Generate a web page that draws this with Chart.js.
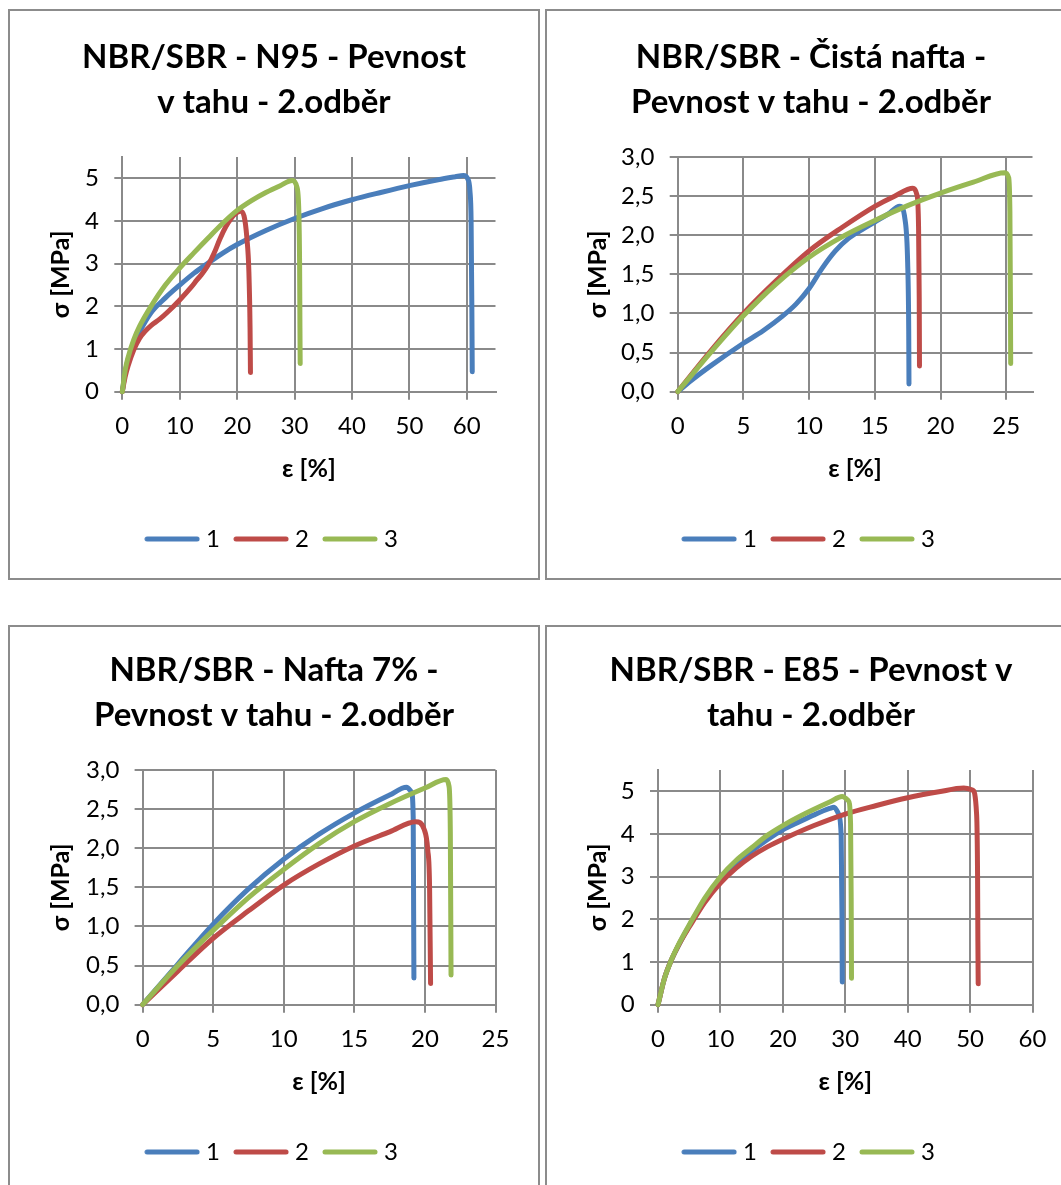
<!DOCTYPE html>
<html>
<head>
<meta charset="utf-8">
<script src="https://cdn.jsdelivr.net/npm/chart.js@4.4.1/dist/chart.umd.min.js"></script>
<style>
  html, body { margin: 0; padding: 0; background: #fff; }
  body { width: 1061px; height: 1185px; position: relative; overflow: hidden; }
  .frame { position: absolute; border: 2px solid #8c8c8c; box-sizing: border-box; }
  canvas { position: absolute; }
</style>
</head>
<body>
<div class="frame" style="left:8px;top:9px;width:532px;height:571px"></div>
<div class="frame" style="left:545px;top:9px;width:532px;height:571px"></div>
<div class="frame" style="left:8px;top:625px;width:532px;height:571px"></div>
<div class="frame" style="left:545px;top:625px;width:532px;height:571px"></div>
<canvas id="c1" width="530" height="569" style="left:9px;top:10px"></canvas>
<canvas id="c2" width="530" height="569" style="left:546px;top:10px"></canvas>
<canvas id="c3" width="530" height="569" style="left:9px;top:623px"></canvas>
<canvas id="c4" width="530" height="569" style="left:546px;top:623px"></canvas>
<script>
// Data: [strain ε %, stress σ MPa]
const seriesNames = ['1', '2', '3'];
const seriesColors = ['#4A7EBB', '#BE4B48', '#98B954'];

// N95
const n95Title = ['NBR/SBR - N95 - Pevnost', 'v tahu - 2.odběr'];
const n95S1 = [[0,0],[0.5,0.45],[1,0.75],[2,1.12],[3,1.4],[5,1.85],[7.5,2.2],[10,2.5],[12.5,2.78],[15,3.02],[17.5,3.25],[20,3.45],[25,3.78],[30,4.06],[35,4.3],[40,4.5],[45,4.67],[50,4.83],[55,4.97],[58,5.04],[59.4,5.07],[60.2,4.98],[60.55,4.7],[60.75,4.0],[60.88,2.0],[60.95,0.47]];
const n95S2 = [[0,0],[0.5,0.35],[1,0.6],[2,0.98],[3,1.25],[4,1.42],[5,1.55],[6.5,1.7],[8,1.88],[10,2.15],[12,2.45],[13,2.62],[14,2.78],[15,2.98],[16,3.25],[17,3.58],[18,3.86],[19,4.07],[20,4.2],[20.6,4.23],[21.2,4.12],[21.7,3.6],[22.05,2.8],[22.25,1.5],[22.32,0.45]];
const n95S3 = [[0,0],[0.5,0.5],[1,0.8],[2,1.22],[3,1.53],[5,2.0],[7.5,2.5],[10,2.9],[12.5,3.26],[15,3.61],[17.5,3.95],[20,4.25],[22.5,4.48],[25,4.67],[27.5,4.83],[29.6,4.95],[30.4,4.8],[30.75,4.2],[30.88,3.0],[30.94,1.5],[30.98,0.66]];
const n95XTicks = ['0', '10', '20', '30', '40', '50', '60'];
const n95YTicks = ['0', '1', '2', '3', '4', '5'];

// Čistá nafta
const cistaTitle = ['NBR/SBR - Čistá nafta -', 'Pevnost v tahu - 2.odběr'];
const cistaS1 = [[0,0],[1,0.14],[2.5,0.33],[5,0.62],[6.5,0.78],[8,0.97],[9,1.12],[10,1.32],[11,1.58],[12,1.8],[13,1.96],[14,2.07],[15,2.17],[16,2.27],[16.9,2.37],[17.3,2.2],[17.5,1.65],[17.58,0.8],[17.6,0.1]];
const cistaS2 = [[0,0],[2.5,0.52],[5,1.0],[7.5,1.42],[10,1.8],[12.5,2.1],[15,2.37],[16.5,2.5],[17.9,2.6],[18.2,2.52],[18.33,2.1],[18.38,1.2],[18.4,0.33]];
const cistaS3 = [[0,0],[1,0.2],[2.5,0.5],[5,0.97],[7.5,1.38],[10,1.72],[12.5,1.98],[15,2.19],[17.5,2.38],[20,2.54],[22.5,2.68],[24.9,2.8],[25.18,2.74],[25.28,2.3],[25.32,1.2],[25.34,0.36]];
const cistaXTicks = ['0', '5', '10', '15', '20', '25'];
const cistaYTicks = ['0,0', '0,5', '1,0', '1,5', '2,0', '2,5', '3,0'];

// Nafta 7%
const nafta7Title = ['NBR/SBR - Nafta 7% -', 'Pevnost v tahu - 2.odběr'];
const nafta7S1 = [[0,0],[2.5,0.52],[5,1.03],[7.5,1.48],[10,1.86],[12.5,2.18],[15,2.45],[17.5,2.68],[18.7,2.78],[19.05,2.72],[19.17,2.4],[19.2,1.2],[19.22,0.34]];
const nafta7S2 = [[0,0],[2.5,0.43],[5,0.85],[7.5,1.2],[10,1.53],[12.5,1.8],[15,2.03],[17.5,2.21],[19.35,2.34],[19.95,2.24],[20.2,1.98],[20.33,1.5],[20.4,0.27]];
const nafta7S3 = [[0,0],[2.5,0.5],[5,0.95],[7.5,1.37],[10,1.73],[12.5,2.06],[15,2.34],[17.5,2.57],[20,2.77],[21.5,2.88],[21.7,2.8],[21.8,2.2],[21.85,0.38]];
const nafta7XTicks = ['0', '5', '10', '15', '20', '25'];
const nafta7YTicks = ['0,0', '0,5', '1,0', '1,5', '2,0', '2,5', '3,0'];

// E85
const e85Title = ['NBR/SBR - E85 - Pevnost v', 'tahu - 2.odběr'];
const e85S1 = [[0,0],[1,0.6],[2,1.0],[3.5,1.45],[5,1.85],[7.5,2.45],[10,2.93],[12.5,3.3],[15,3.6],[17.5,3.87],[20,4.1],[22.5,4.28],[25,4.45],[27.5,4.6],[28.2,4.63],[28.9,4.48],[29.35,3.95],[29.48,2.0],[29.52,0.53]];
const e85S2 = [[0,0],[1,0.6],[2,1.0],[3.5,1.45],[5,1.82],[7.5,2.4],[10,2.85],[12.5,3.2],[15,3.48],[17.5,3.7],[20,3.88],[25,4.2],[30,4.47],[35,4.67],[40,4.85],[45,4.99],[49,5.08],[50.4,5.03],[51.05,4.45],[51.2,3.0],[51.25,1.5],[51.3,0.49]];
const e85S3 = [[0,0],[1,0.6],[2,1.0],[3.5,1.47],[5,1.87],[7.5,2.5],[10,3.0],[12.5,3.38],[15,3.68],[17.5,3.97],[20,4.2],[22.5,4.4],[25,4.58],[27.5,4.75],[29.5,4.88],[30.5,4.78],[30.85,4.25],[30.95,2.5],[31.0,0.62]];
const e85XTicks = ['0', '10', '20', '30', '40', '50', '60'];
const e85YTicks = ['0', '1', '2', '3', '4', '5'];

const FONT = 'Lato, "Open Sans", sans-serif';
const GRID = '#8a8a8a';
const LEGEND_BOX = 44;

// legend swatch: a thick rounded line slightly longer than the legend box
function legendSwatch(color) {
  const c = document.createElement('canvas');
  c.width = LEGEND_BOX + 12;
  c.height = 8;
  const ctx = c.getContext('2d');
  ctx.strokeStyle = color;
  ctx.lineWidth = 5;
  ctx.lineCap = 'round';
  ctx.beginPath();
  ctx.moveTo(3, 4);
  ctx.lineTo(c.width - 3, 4);
  ctx.stroke();
  return c;
}

function drawPanel(id, p) {
  new Chart(document.getElementById(id), {
    type: 'scatter',
    data: {
      datasets: p.series.map((pts, i) => ({
        label: seriesNames[i],
        data: pts.map(([x, y]) => ({ x, y })),
        showLine: true,
        borderColor: seriesColors[i],
        backgroundColor: seriesColors[i],
        borderWidth: 5,
        borderCapStyle: 'round',
        borderJoinStyle: 'round',
        cubicInterpolationMode: 'monotone',
        pointRadius: 0,
        pointHoverRadius: 0,
        pointHitRadius: 0,
        pointStyle: legendSwatch(seriesColors[i]),
        order: 3 - i,
        clip: false
      }))
    },
    options: {
      responsive: false,
      animation: false,
      events: [],
      layout: { padding: { left: 0, right: 0, top: 0, bottom: 18 } },
      plugins: {
        title: {
          display: true,
          text: p.title,
          color: '#000',
          font: { family: FONT, size: 33, weight: 'bold', lineHeight: 1.38 },
          padding: { top: 24.2, bottom: 31.8 }
        },
        legend: {
          position: 'bottom',
          labels: {
            usePointStyle: true,
            pointStyleWidth: LEGEND_BOX,
            color: '#000',
            font: { family: FONT, size: 24 },
            padding: 19,
            sort: (a, b) => a.datasetIndex - b.datasetIndex
          }
        },
        tooltip: { enabled: false }
      },
      scales: {
        x: {
          type: 'linear',
          min: 0,
          max: p.xMax,
          afterFit: s => { s.height = 116.3; s.paddingRight = 43.5; },
          ticks: {
            stepSize: p.xStep,
            includeBounds: false,
            color: '#000',
            padding: 12.3,
            font: { family: FONT, size: 24 },
            maxRotation: 0,
            callback: (v, i) => p.xTicks[i]
          },
          grid: { color: GRID, lineWidth: 2, tickLength: 8 },
          border: { color: GRID, width: 2 },
          title: {
            display: true,
            text: 'ε [%]',
            color: '#000',
            font: { family: FONT, size: 25, weight: 'bold' },
            padding: { top: 0, bottom: 24.4 }
          }
        },
        y: {
          type: 'linear',
          min: 0,
          max: p.yMax,
          afterFit: s => { s.width = p.yAxisWidth; },
          ticks: {
            stepSize: p.yStep,
            includeBounds: false,
            color: '#000',
            padding: 15.3,
            font: { family: FONT, size: 24 },
            callback: (v, i) => p.yTicks[i]
          },
          grid: { color: GRID, lineWidth: 2, tickLength: 8 },
          border: { color: GRID, width: 2 },
          title: {
            display: true,
            text: 'σ [MPa]',
            color: '#000',
            font: { family: FONT, size: 25, weight: 'bold' },
            padding: { top: 36.5, bottom: 0 }
          }
        }
      }
    }
  });
}

function drawAll() {
  drawPanel('c1', { title: n95Title, series: [n95S1, n95S2, n95S3], xMax: 65, xStep: 10, yMax: 5.5, yStep: 1,
    xTicks: n95XTicks, yTicks: n95YTicks, yAxisWidth: 113.3 });
  drawPanel('c2', { title: cistaTitle, series: [cistaS1, cistaS2, cistaS3], xMax: 27, xStep: 5, yMax: 3, yStep: 0.5,
    xTicks: cistaXTicks, yTicks: cistaYTicks, yAxisWidth: 131.7 });
  drawPanel('c3', { title: nafta7Title, series: [nafta7S1, nafta7S2, nafta7S3], xMax: 25, xStep: 5, yMax: 3, yStep: 0.5,
    xTicks: nafta7XTicks, yTicks: nafta7YTicks, yAxisWidth: 133.6 });
  drawPanel('c4', { title: e85Title, series: [e85S1, e85S2, e85S3], xMax: 60, xStep: 10, yMax: 5.5, yStep: 1,
    xTicks: e85XTicks, yTicks: e85YTicks, yAxisWidth: 112 });
}

Promise.all([
  document.fonts.load('bold 33px Lato'),
  document.fonts.load('24px Lato')
]).then(drawAll, drawAll);
</script>
</body>
</html>
